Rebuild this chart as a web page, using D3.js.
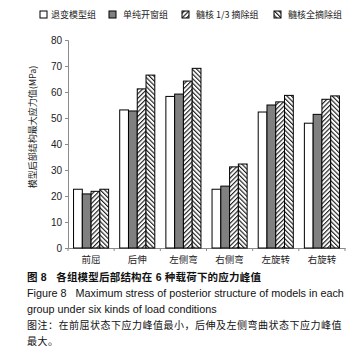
<!DOCTYPE html>
<html>
<head>
<meta charset="utf-8">
<script src="https://cdn.jsdelivr.net/npm/d3@7/dist/d3.min.js"></script>
<style>
  body { margin: 0; background: #fff; }
  svg text { font-family: "Liberation Sans", "Noto Sans CJK SC", sans-serif; white-space: pre; }
  .cjk { font-family: "Noto Sans CJK SC", sans-serif; }
</style>
</head>
<body>
<div id="chart"></div>
<script>
// load conditions and groups
var categories = ['前屈', '后伸', '左侧弯', '右侧弯', '左旋转', '右旋转'];
var groups = ['退变模型组', '单纯开窗组', '髓核 1/3 摘除组', '髓核全摘除组'];

// peak stress (MPa), one array per group
var degen   = [22.6, 53.1, 58.3, 22.6, 52.3, 48.0];
var window_ = [20.8, 52.7, 59.2, 23.8, 55.0, 51.4];
var third   = [21.8, 61.2, 64.2, 31.2, 56.2, 57.2];
var full    = [22.6, 66.5, 69.1, 32.3, 58.7, 58.5];
var series = [degen, window_, third, full];

var yTicks = [0, 10, 20, 30, 40, 50, 60, 70, 80];

var W = 360, H = 363;
var svg = d3.select('#chart').append('svg')
    .attr('width', W).attr('height', H);

// hatch patterns
var defs = svg.append('defs');
function hatch(id, angle) {
    var p = defs.append('pattern')
        .attr('id', id)
        .attr('patternUnits', 'userSpaceOnUse')
        .attr('width', 3.2).attr('height', 3.2)
        .attr('patternTransform', 'rotate(' + angle + ')');
    p.append('rect').attr('width', 3.2).attr('height', 3.2).attr('fill', '#fff');
    p.append('line').attr('x1', 0.6).attr('y1', 0).attr('x2', 0.6).attr('y2', 3.2)
        .attr('stroke', '#000').attr('stroke-width', 1);
}
hatch('h1', 45);
hatch('h2', -45);
var fills = ['#fff', '#808080', 'url(#h1)', 'url(#h2)'];

var x0 = d3.scaleBand().domain(categories).range([68, 345])
    .paddingInner(0.24).paddingOuter(0.12);
var x1 = d3.scaleBand().domain(d3.range(groups.length)).range([0, x0.bandwidth()]);
var y = d3.scaleLinear().domain([0, 80]).range([248, 40]);

// axes
var axisColor = '#8a8a8a';
var yAxis = svg.append('g').attr('transform', 'translate(68,0)')
    .call(d3.axisLeft(y).tickValues(yTicks).tickSize(3).tickPadding(3));
yAxis.select('.domain').attr('stroke', axisColor);
yAxis.selectAll('.tick line').attr('stroke', axisColor);
yAxis.selectAll('.tick text').attr('font-size', 10).attr('fill', '#222')
    .style('font-family', '"Liberation Sans", sans-serif');

var xAxis = svg.append('g').attr('transform', 'translate(0,248)')
    .call(d3.axisBottom(x0).tickSize(0).tickPadding(8).tickSizeOuter(0));
xAxis.select('.domain').attr('stroke', axisColor);
xAxis.selectAll('.tick text').attr('font-size', 9.5).attr('fill', '#222')
    .attr('class', 'cjk');
// tick marks between categories
var bounds = [68].concat(categories.map(function(c) { return x0(c) - x0.step() * x0.paddingInner() / 2 + x0.step(); }));
xAxis.selectAll('.sep').data(bounds).enter().append('line')
    .attr('x1', function(d) { return d; }).attr('x2', function(d) { return d; })
    .attr('y1', 0).attr('y2', 3).attr('stroke', axisColor);

// bars
var g = svg.append('g');
categories.forEach(function(c, ci) {
    series.forEach(function(s, si) {
        g.append('rect')
            .attr('x', x0(c) + x1(si))
            .attr('y', y(s[ci]))
            .attr('width', x1.bandwidth())
            .attr('height', y(0) - y(s[ci]))
            .attr('fill', fills[si])
            .attr('stroke', '#000')
            .attr('stroke-width', 1);
    });
});

// y label
svg.append('text')
    .attr('class', 'cjk')
    .attr('transform', 'translate(36,127) rotate(-90)')
    .attr('text-anchor', 'middle')
    .attr('font-size', 9)
    .attr('fill', '#222')
    .text('模型后部结构最大应力值(MPa)');

// legend
var legX = [40, 109, 182, 274];
var leg = svg.append('g');
groups.forEach(function(name, i) {
    leg.append('rect').attr('x', legX[i]).attr('y', 11).attr('width', 7).attr('height', 7)
        .attr('fill', fills[i]).attr('stroke', '#000');
    leg.append('text').attr('class', 'cjk')
        .attr('x', legX[i] + (i < 1 ? 11 : 14)).attr('y', 18)
        .attr('font-size', 9).attr('fill', '#222').text(name);
});

// caption
var cap = [
    { t: '图 8   各组模型后部结构在 6 种载荷下的应力峰值', y: 281, bold: true, fs: 10.5, ls: 0.2 },
    { t: 'Figure 8   Maximum stress of posterior structure of models in each', y: 297, fs: 10.8, ls: 0 },
    { t: 'group under six kinds of load conditions', y: 313, fs: 10.8, ls: 0 },
    { t: '图注：在前屈状态下应力峰值最小，后伸及左侧弯曲状态下应力峰值', y: 329, fs: 10, ls: 0.5 },
    { t: '最大。', y: 345, fs: 10, ls: 0.5 }
];
svg.selectAll('.cap').data(cap).enter().append('text')
    .attr('x', 27).attr('y', function(d) { return d.y; })
    .attr('font-size', function(d) { return d.fs; })
    .attr('letter-spacing', function(d) { return d.ls; })
    .attr('font-weight', function(d) { return d.bold ? 'bold' : 'normal'; })
    .attr('fill', '#111')
    .text(function(d) { return d.t; });
</script>
</body>
</html>
